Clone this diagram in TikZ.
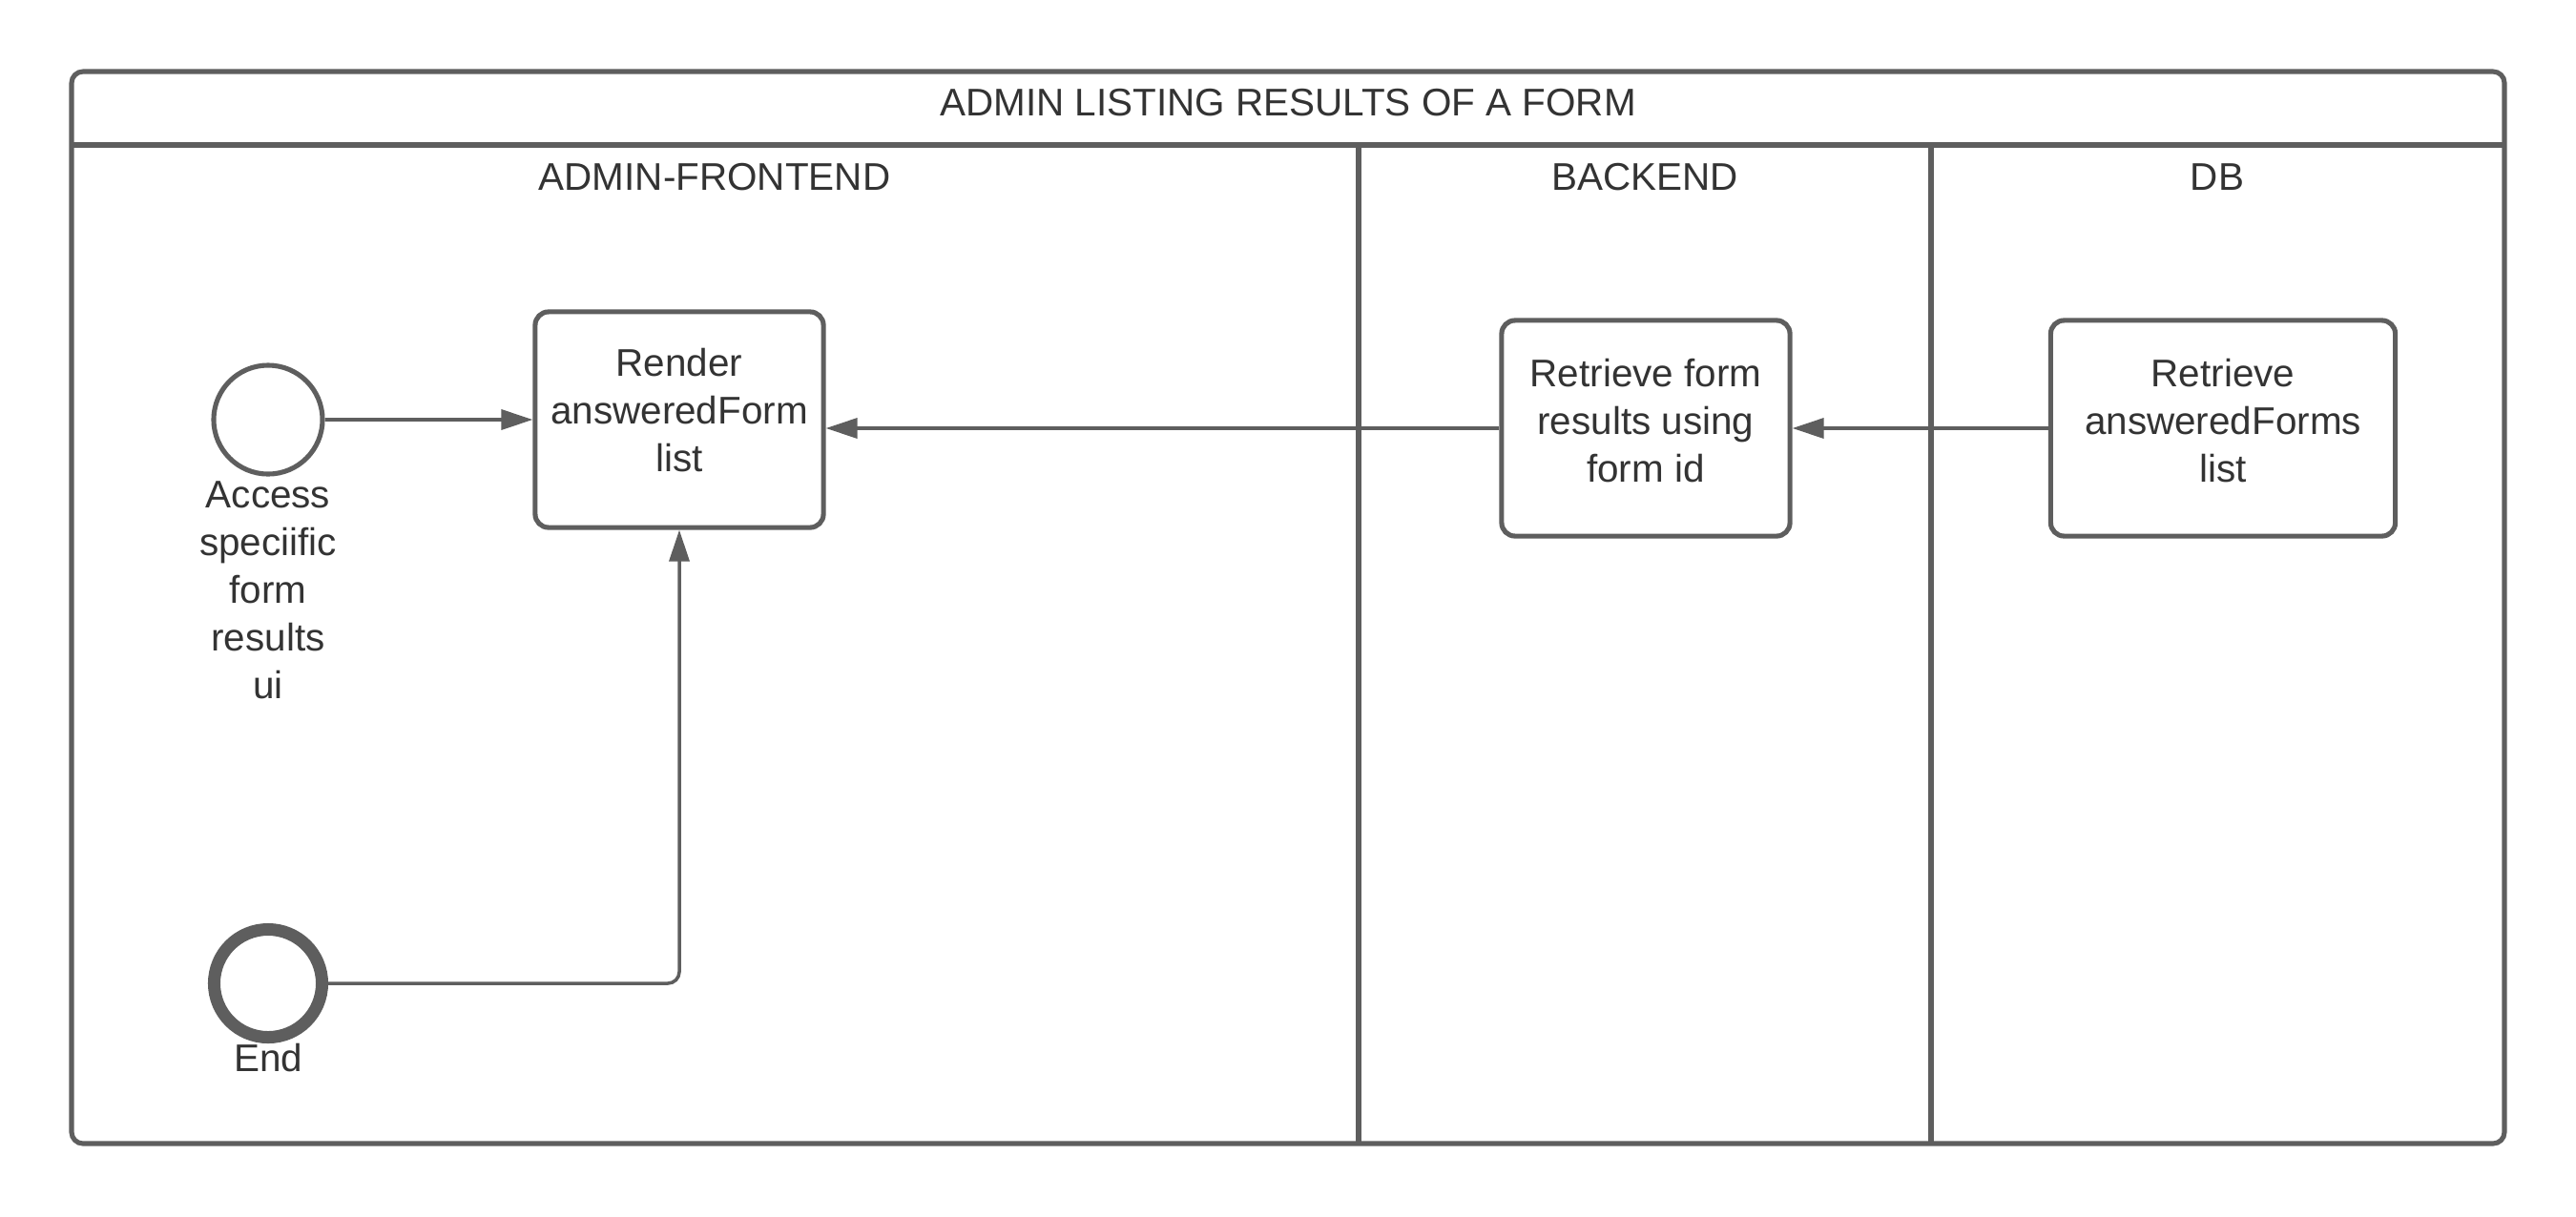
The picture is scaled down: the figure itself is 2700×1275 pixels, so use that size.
\documentclass[tikz,border=0pt]{standalone}
\usepackage{fontspec}
\setmainfont{Liberation Sans}
\usetikzlibrary{arrows.meta}
\definecolor{strokeg}{HTML}{5E5E5E}
\definecolor{textg}{HTML}{333333}
\tikzset{
  every node/.style={text=textg, font=\fontsize{11.5}{14.2}\selectfont},
  frame/.style={draw=strokeg, line width=1.45pt},
  task/.style={draw=strokeg, line width=1.45pt, rounded corners=1.4mm, minimum width=3.02cm, minimum height=2.26cm, inner sep=0pt},
  startev/.style={draw=strokeg, circle, line width=1.45pt, minimum size=1.14cm, inner sep=0pt},
  endev/.style={draw=strokeg, circle, line width=3.7pt, minimum size=1.13cm, inner sep=0pt},
  lbl/.style={align=center, inner sep=0pt},
  flow/.style={draw=strokeg, line width=1pt, -{Triangle[length=3.3mm, width=2.1mm]}},
}
\begin{document}
\begin{tikzpicture}[x=0.01cm, y=-0.01cm]
\useasboundingbox (0,0) rectangle (2700,1275);
% pool frame
\draw[frame, rounded corners=1.2mm] (75,75) rectangle (2625,1199);
\draw[frame] (75,152) -- (2625,152);
\draw[frame] (1424,152) -- (1424,1199);
\draw[frame] (2024,152) -- (2024,1199);
\node (title) at (1350,108) {ADMIN LISTING RESULTS OF A FORM};
\node (lane1) at (749,186) {ADMIN-FRONTEND};
\node (lane2) at (1724,186) {BACKEND};
\node (lane3) at (2324,186) {DB};
% nodes
\node[startev] (start) at (281,440) {};
\node[lbl, anchor=north] (startlbl) at (281,504) {Access\\speciific\\form\\results\\ui};
\node[endev] (end) at (281,1031) {};
\node[lbl, anchor=north] (endlbl) at (281,1093) {End};
\node[task] (render) at (712,440) {};
\node[lbl] (rendertxt) at (712,430) {Render\\answeredForm\\list};
\node[task] (backend) at (1725,449) {};
\node[lbl] (backendtxt) at (1725,441) {Retrieve form\\results using\\form id};
\node[task, minimum width=3.61cm] (db) at (2330,449) {};
\node[lbl] (dbtxt) at (2330,441) {Retrieve\\answeredForms\\list};
% flows
\draw[flow] (start.east) -- (render.west);
\draw[flow] (backend.west) -- (render.east |- backend.west);
\draw[flow] (db.west) -- (backend.east);
\draw[flow, rounded corners=1.2mm] (end.east) -- (render.south |- end.east) -- (render.south);
\end{tikzpicture}
\end{document}
